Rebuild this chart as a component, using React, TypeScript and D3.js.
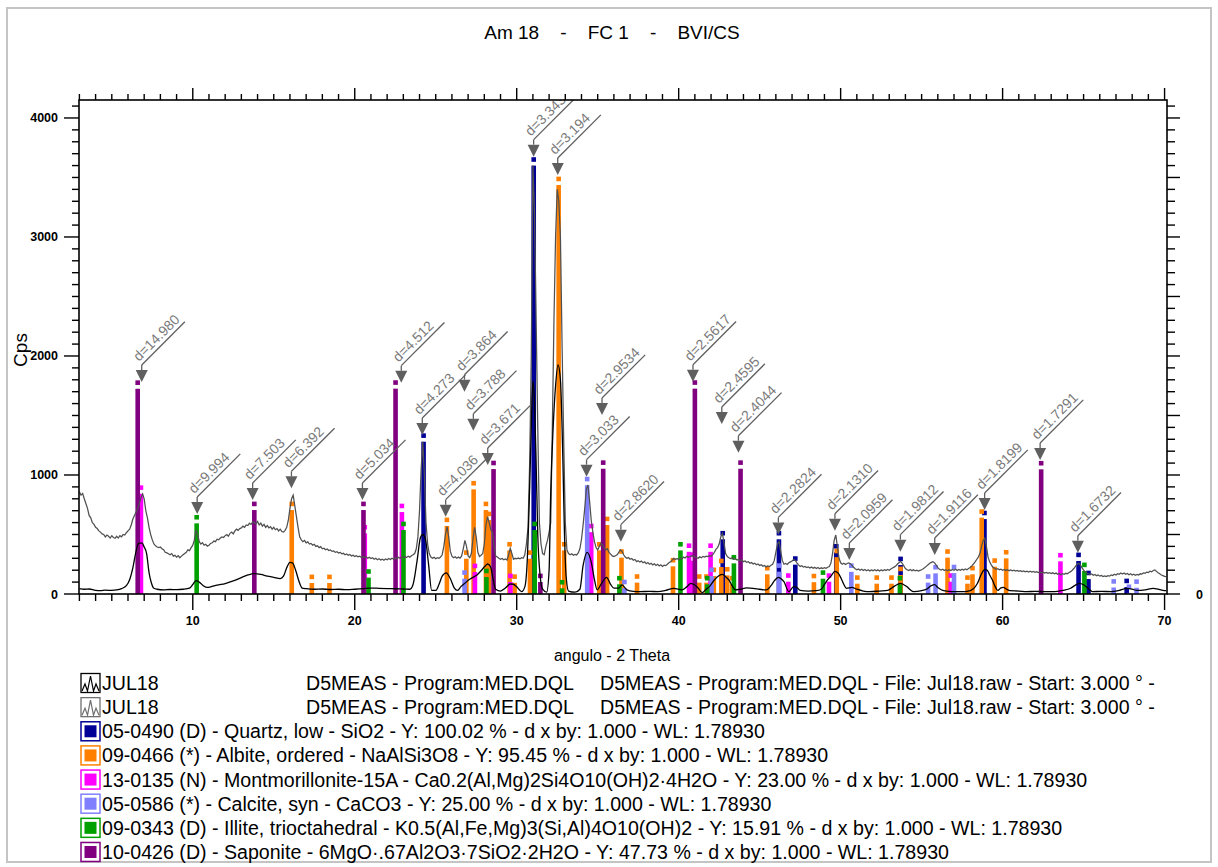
import React from "react";
import * as d3 from "d3";

const W = 1218;
const H = 867;

const chartTitle = "Am 18    -    FC 1    -    BVI/CS";
const xAxisTitle = "angulo - 2 Theta";
const yAxisTitle = "Cps";
const wavelength = 1.7893;

const xMajorTicks = [10, 20, 30, 40, 50, 60, 70];
const yMajorTicks = [0, 1000, 2000, 3000, 4000];

// Raw scan (grey), sampled every 0.1° from 3.0°
const rawStart = 3.0;
const rawStep = 0.1;
const rawCps = [
  860, 830, 845, 800, 760, 720, 660, 640, 600, 585,
  560, 550, 530, 520, 505, 500, 480, 495, 485, 470,
  490, 475, 468, 485, 470, 490, 480, 500, 495, 515,
  530, 545, 580, 630, 660, 690, 720, 760, 810, 840,
  800, 700, 640, 560, 500, 455, 420, 405, 395, 390,
  395, 380, 372, 350, 345, 338, 330, 340, 318, 325,
  310, 322, 305, 318, 330, 340, 350, 372, 365, 390,
  410, 455, 540, 500, 440, 420, 432, 410, 418, 402,
  410, 425, 430, 445, 440, 460, 455, 470, 480, 475,
  490, 500, 485, 510, 520, 505, 530, 545, 535, 550,
  555, 570, 560, 580, 575, 595, 585, 605, 600, 590,
  610, 580, 595, 570, 585, 560, 575, 555, 565, 545,
  560, 540, 550, 530, 545, 525, 520, 535, 560, 620,
  720, 800, 830, 740, 650, 560, 480, 455, 440, 450,
  430, 438, 420, 425, 410, 418, 400, 405, 390, 398,
  380, 385, 372, 378, 365, 370, 358, 362, 350, 355,
  345, 350, 338, 342, 330, 336, 325, 332, 320, 326,
  315, 322, 312, 318, 308, 315, 305, 312, 300, 308,
  298, 305, 292, 300, 288, 296, 285, 292, 284, 295,
  288, 298, 290, 300, 292, 305, 296, 308, 300, 312,
  304, 315, 306, 318, 310, 322, 330, 340, 380, 480,
  700, 1050, 1280, 1000, 600, 420, 340, 310, 300, 308,
  296, 305, 300, 310, 330, 400, 500, 566, 480, 360,
  318, 305, 312, 300, 310, 302, 320, 380, 450, 400,
  320, 305, 340, 460, 560, 480, 350, 315, 325, 340,
  420, 580, 650, 600, 540, 520, 400, 320, 310, 300,
  292, 298, 288, 295, 286, 330, 384, 340, 292, 300,
  295, 302, 296, 305, 300, 330, 420, 560, 1100, 2000,
  3600, 3200, 2300, 1400, 600, 420, 340, 330, 400, 450,
  520, 600, 1400, 2300, 3000, 3400, 3300, 3000, 2100, 1300,
  600, 370, 340, 330, 338, 325, 332, 328, 345, 380,
  460, 580, 720, 880, 916, 780, 620, 520, 440, 390,
  370, 400, 426, 410, 385, 370, 380, 350, 335, 320,
  314, 322, 330, 350, 370, 360, 330, 310, 300, 306,
  292, 298, 284, 290, 272, 280, 268, 276, 262, 270,
  255, 264, 250, 258, 245, 254, 240, 250, 236, 246,
  232, 242, 238, 250, 262, 270, 285, 300, 290, 298,
  288, 300, 295, 310, 302, 316, 308, 314, 322, 318,
  310, 305, 300, 312, 304, 316, 310, 318, 314, 322,
  316, 330, 350, 375, 390, 420, 480, 510, 430, 340,
  314, 305, 298, 304, 292, 296, 286, 290, 280, 286,
  272, 278, 266, 272, 258, 264, 252, 258, 246, 252,
  240, 246, 234, 240, 228, 236, 230, 242, 250, 280,
  350, 420, 440, 360, 280, 250, 256, 248, 262, 270,
  278, 290, 282, 262, 245, 232, 238, 226, 232, 222,
  228, 218, 226, 216, 224, 214, 222, 212, 220, 214,
  222, 216, 225, 230, 260, 340, 450, 496, 400, 300,
  262, 250, 258, 248, 256, 262, 255, 240, 225, 212,
  204, 210, 200, 208, 198, 206, 196, 204, 194, 202,
  196, 204, 195, 203, 194, 202, 196, 204, 198, 206,
  200, 210, 218, 226, 236, 250, 262, 274, 258, 236,
  214, 204, 198, 206, 196, 203, 194, 200, 192, 198,
  204, 212, 222, 234, 246, 258, 266, 272, 262, 242,
  222, 208, 202, 208, 198, 205, 196, 204, 198, 206,
  200, 208, 198, 206, 200, 208, 202, 210, 204, 214,
  222, 236, 252, 270, 290, 310, 340, 400, 450, 468,
  400, 310, 270, 245, 225, 216, 208, 212, 204, 208,
  200, 206, 198, 204, 196, 202, 194, 200, 192, 198,
  190, 196, 188, 194, 186, 192, 185, 191, 184, 190,
  182, 188, 180, 186, 178, 184, 176, 182, 174, 180,
  172, 178, 170, 176, 166, 172, 162, 170, 166, 174,
  170, 180, 188, 200, 214, 232, 250, 258, 245, 222,
  200, 186, 176, 170, 164, 168, 158, 164, 154, 160,
  150, 156, 146, 152, 146, 154, 150, 160, 155, 166,
  160, 170, 166, 176, 168, 176, 166, 172, 162, 170,
  160, 166, 158, 164, 160, 170, 168, 178, 174, 184,
  180, 192, 186, 198, 202, 190, 178, 170, 160, 154,
  148, 146,
];

// Background-subtracted scan (black)
const netAngles = [
  3.0, 3.3, 3.6, 4.0, 4.3, 4.6, 5.0, 5.3, 5.6, 5.9, 6.1, 6.3, 6.5, 6.65, 6.85, 7.0, 7.15, 7.3, 7.45, 7.6,
  7.8, 8.2, 8.6, 9.0, 9.4, 9.8, 10.0, 10.2, 10.4, 10.65, 10.9, 11.1, 11.5, 12.0, 12.5, 13.0, 13.4, 13.8, 14.2, 14.6,
  15.0, 15.4, 15.6, 15.8, 16.0, 16.15, 16.35, 16.55, 16.75, 17.0, 17.5, 18.0, 18.5, 19.0, 19.5, 20.0, 20.5, 21.0, 21.5, 22.0,
  22.5, 23.0, 23.4, 23.6, 23.85, 24.05, 24.2, 24.35, 24.55, 24.75, 25.0, 25.2, 25.4, 25.65, 25.9, 26.15, 26.35, 26.55, 26.8, 27.05,
  27.3, 27.55, 27.8, 28.05, 28.2, 28.38, 28.55, 28.7, 29.0, 29.3, 29.6, 29.8, 30.0, 30.3, 30.5, 30.65, 30.8, 30.9, 31.0, 31.1,
  31.2, 31.3, 31.45, 31.6, 31.85, 32.0, 32.1, 32.25, 32.4, 32.55, 32.7, 32.85, 32.95, 33.05, 33.2, 33.6, 33.9, 34.1, 34.35, 34.6,
  34.8, 34.97, 35.2, 35.55, 35.8, 36.0, 36.3, 36.5, 36.8, 37.2, 37.6, 38.2, 38.7, 39.2, 39.7, 40.2, 40.5, 40.75, 41.0, 41.2,
  41.45, 41.7, 41.9, 42.2, 42.5, 42.7, 42.9, 43.1, 43.3, 43.5, 43.8, 44.2, 44.6, 45.0, 45.4, 45.7, 45.9, 46.15, 46.3, 46.5,
  46.8, 47.1, 47.3, 47.5, 48.0, 48.5, 48.8, 49.0, 49.2, 49.4, 49.65, 49.85, 50.0, 50.2, 50.35, 50.7, 51.0, 51.4, 51.8, 52.4,
  52.9, 53.2, 53.5, 53.7, 53.9, 54.1, 54.3, 54.5, 55.0, 55.3, 55.6, 55.8, 56.0, 56.3, 56.7, 57.0, 57.5, 57.8, 58.2, 58.45,
  58.7, 58.9, 59.05, 59.2, 59.37, 59.55, 59.7, 59.9, 60.05, 60.25, 60.45, 61.0, 61.5, 62.0, 62.6, 63.2, 63.7, 64.2, 64.5, 64.75,
  65.0, 65.3, 65.55, 66.1, 66.7, 67.2, 67.7, 68.0, 68.3, 68.8, 69.3, 69.6, 69.9, 70.1,
];
const netCps = [
  45, 40, 42, 30, 28, 32, 30, 34, 45, 70, 120, 220, 360, 425, 430, 395, 340, 180, 90, 48,
  40, 35, 38, 36, 40, 50, 80, 112, 100, 70, 55, 60, 75, 88, 110, 138, 160, 172, 165, 150,
  140, 130, 150, 220, 265, 262, 200, 110, 50, 45, 40, 42, 38, 40, 36, 40, 45, 50, 48, 46,
  44, 42, 40, 80, 280, 470, 500, 470, 260, 30, 30, 80, 150, 178, 130, 50, 30, 62, 90, 120,
  140, 160, 195, 235, 252, 230, 120, 40, 25, 50, 84, 82, 60, 20, 60, 280, 900, 1400, 1790, 1600,
  1100, 500, 150, 40, 15, 200, 850, 1400, 1750, 1925, 1800, 1130, 500, 150, 25, 15, 40, 240, 350, 270,
  120, 35, 80, 140, 80, 50, 50, 76, 35, 22, 20, 22, 20, 30, 48, 35, 60, 90, 75, 50,
  12, 40, 62, 118, 155, 165, 145, 118, 70, 34, 40, 52, 48, 40, 34, 70, 110, 140, 130, 103,
  20, 62, 55, 30, 25, 28, 40, 80, 120, 150, 190, 175, 140, 80, 48, 55, 40, 25, 20, 25,
  30, 55, 80, 90, 78, 60, 35, 20, 28, 40, 70, 78, 55, 30, 22, 20, 20, 22, 45, 90,
  170, 207, 200, 160, 118, 60, 30, 52, 56, 40, 28, 25, 20, 22, 20, 20, 30, 48, 75, 90,
  78, 45, 20, 22, 20, 30, 48, 40, 30, 35, 48, 40, 30, 28,
];

// Reference patterns (2θ, Cps)
const quartzAngles = [24.25, 31.05, 42.72, 46.19, 47.2, 49.73, 53.7, 58.88, 64.69, 65.3, 67.66];
const quartzCps = [1330, 3650, 510, 510, 297, 400, 294, 680, 328, 176, 109];

const albiteAngles = [
  16.11, 17.35, 18.44, 25.69, 26.89, 27.34, 28.1, 28.28, 29.56, 29.87, 30.82, 32.59, 32.93,
  35.1, 35.58, 36.47, 37.43, 39.65, 41.27, 41.72, 42.17, 42.63, 43.0, 43.31, 45.47, 48.35,
  49.76, 51.03, 52.23, 53.14, 53.7, 56.6, 57.83, 58.14, 58.71, 59.51, 60.22,
];
const albiteCps = [
  756, 143, 143, 622, 347, 930, 756, 672, 417, 145, 347, 3487, 417,
  417, 630, 356, 146, 283, 146, 146, 202, 277, 207, 132, 216, 150,
  360, 137, 137, 137, 210, 356, 137, 216, 692, 280, 350,
];

const montmorilloniteAngles = [6.8, 20.62, 22.91, 27.42, 29.61, 34.6, 40.64, 40.8, 41.97, 46.77, 49.28, 56.8, 63.57];
const montmorilloniteCps = [893, 560, 739, 235, 151, 570, 405, 330, 405, 154, 154, 154, 325];

const calciteAngles = [26.78, 34.35, 36.65, 42.03, 46.21, 50.66, 55.4, 55.86, 57.0, 66.86, 67.8, 68.27];
const calciteCps = [179, 965, 100, 202, 238, 237, 146, 224, 226, 105, 60, 103];

const illiteAngles = [10.24, 20.85, 23.01, 28.13, 31.11, 32.8, 36.34, 40.11, 41.76, 43.41, 48.91, 53.66, 65.05];
const illiteCps = [644, 188, 588, 193, 588, 98, 132, 417, 132, 308, 179, 132, 244];

const saponiteAngles = [6.6, 13.8, 20.54, 22.52, 28.57, 31.46, 35.34, 41.0, 43.82, 62.38];
const saponiteCps = [1775, 756, 756, 1776, 1100, 151, 1103, 1776, 1103, 1098];

const phaseLabels = [
  "05-0490 (D) - Quartz, low - SiO2 - Y: 100.02 % - d x by: 1.000 - WL: 1.78930",
  "09-0466 (*) - Albite, ordered - NaAlSi3O8 - Y: 95.45 % - d x by: 1.000 - WL: 1.78930",
  "13-0135 (N) - Montmorillonite-15A - Ca0.2(Al,Mg)2Si4O10(OH)2·4H2O - Y: 23.00 % - d x by: 1.000 - WL: 1.78930",
  "05-0586 (*) - Calcite, syn - CaCO3 - Y: 25.00 % - d x by: 1.000 - WL: 1.78930",
  "09-0343 (D) - Illite, trioctahedral - K0.5(Al,Fe,Mg)3(Si,Al)4O10(OH)2 - Y: 15.91 % - d x by: 1.000 - WL: 1.78930",
  "10-0426 (D) - Saponite - 6MgO·.67Al2O3·7SiO2·2H2O - Y: 47.73 % - d x by: 1.000 - WL: 1.78930",
];
const phaseColors = ["#000096", "#ff8000", "#ff00ff", "#8080ff", "#00a000", "#800080"];
const phaseAngles = [quartzAngles, albiteAngles, montmorilloniteAngles, calciteAngles, illiteAngles, saponiteAngles];
const phaseCps = [quartzCps, albiteCps, montmorilloniteCps, calciteCps, illiteCps, saponiteCps];

const scanNames = ["JUL18", "JUL18"];
const scanColors = ["#000000", "#707070"];
const scanInfo = "D5MEAS - Program:MED.DQL";
const scanFile = "D5MEAS - Program:MED.DQL - File: Jul18.raw - Start: 3.000 ° -";

// Peak markers: d-spacing (Å) and height of the arrow tip (Cps)
const peakD = [
  "14.980", "9.994", "7.503", "6.392", "5.034", "4.512", "4.273", "4.036", "3.864", "3.788",
  "3.671", "3.343", "3.194", "3.033", "2.9534", "2.8620", "2.5617", "2.4595", "2.4044", "2.2824",
  "2.1310", "2.0959", "1.9812", "1.9116", "1.8199", "1.7291", "1.6732",
];
const peakTipCps = [
  1782, 672, 790, 888, 790, 1776, 1336, 650, 1700, 1372,
  1084, 3675, 3521, 986, 1504, 440, 1784, 1429, 1187, 501,
  532, 286, 356, 328, 706, 1126, 347,
];

const plot = { left: 79, right: 1167, top: 100, bottom: 594 };
const x = d3.scaleLinear().domain([3, 70.15]).range([79.4, plot.right]);
const y = d3.scaleLinear().domain([0, 4151]).range([plot.bottom, plot.top]);

const braggTwoTheta = (d: number) => (2 * Math.asin(wavelength / (2 * d)) * 180) / Math.PI;

const rawPoints: [number, number][] = rawCps.map((c, i) => [rawStart + i * rawStep, c]);
const netPoints: [number, number][] = netAngles.map((a, i) => [a, netCps[i]]);

const rawLine = d3.line<[number, number]>().x((d) => x(d[0])).y((d) => y(d[1]));
const netLine = d3
  .line<[number, number]>()
  .x((d) => x(d[0]))
  .y((d) => y(d[1]))
  .curve(d3.curveMonotoneX);

const tickFont = {
  fontFamily: "'Liberation Sans Narrow', 'Arial Narrow', Arial, sans-serif",
  fontWeight: 700,
  fontSize: 12.5,
};
const textFont = "'Liberation Sans', Arial, Helvetica, sans-serif";
const legendSize = 19.6;

export default function App() {
  const xMinor = d3.range(3, 71, 1);
  const yMinor = d3.range(0, 4200, 100);
  const legendTop = 683;
  const legendStep = 24.14;

  return (
    <svg
      width={W}
      height={H}
      viewBox={`0 0 ${W} ${H}`}
      style={{ position: "absolute", left: 0, top: 0, background: "#fff" }}
    >
      <defs>
        <clipPath id="plotClip">
          <rect x={plot.left} y={plot.top} width={plot.right - plot.left} height={plot.bottom - plot.top} />
        </clipPath>
      </defs>
      <rect x={0} y={0} width={W} height={H} fill="#fff" />
      <rect x={7} y={8} width={1204} height={854} fill="none" stroke="#c4c4c4" strokeWidth={2} />

      <text
        x={612}
        y={39}
        textAnchor="middle"
        fontFamily={textFont}
        fontSize={19}
        fill="#000"
        style={{ whiteSpace: "pre" }}
      >
        {chartTitle}
      </text>

      {/* reference sticks */}
      <g clipPath="url(#plotClip)">
        {phaseAngles.map((angles, p) => (
          <g key={p} fill={phaseColors[p]}>
            {angles.map((a, i) => {
              const cx = x(a);
              const top = y(phaseCps[p][i]);
              return (
                <g key={i}>
                  <rect x={cx - 2.3} y={top - 2.4} width={4.6} height={4.6} />
                  <rect x={cx - 2.3} y={top + 6} width={4.6} height={Math.max(0, plot.bottom - top - 6)} />
                </g>
              );
            })}
          </g>
        ))}
      </g>

      {/* scans */}
      <g clipPath="url(#plotClip)">
        <path d={rawLine(rawPoints) ?? ""} fill="none" stroke="#505050" strokeWidth={1.25} />
        <path d={netLine(netPoints) ?? ""} fill="none" stroke="#000" strokeWidth={1.3} />
      </g>

      {/* d-spacing markers */}
      <g clipPath="url(#plotClip)">
        {peakD.map((ds, i) => {
          const px = x(braggTwoTheta(+ds));
          const py = y(peakTipCps[i]);
          const sy = py - 12 - 5;
          return (
            <g key={ds}>
              <path d={`M${px - 6},${py - 12} L${px + 6},${py - 12} L${px},${py} Z`} fill="#5f5f5f" />
              <line x1={px} y1={py - 12} x2={px} y2={sy} stroke="#5f5f5f" strokeWidth={1.3} />
              <g transform={`translate(${px},${sy}) rotate(-45)`}>
                <line x1={0} y1={0} x2={61} y2={0} stroke="#5f5f5f" strokeWidth={1.3} />
                <text x={0} y={-4} fontFamily={textFont} fontSize={14} fill="#7a7a7a">
                  {`d=${ds}`}
                </text>
              </g>
            </g>
          );
        })}
      </g>

      {/* frame */}
      <rect
        x={plot.left}
        y={plot.top}
        width={plot.right - plot.left}
        height={plot.bottom - plot.top}
        fill="none"
        stroke="#000"
        strokeWidth={1.6}
      />

      {/* x ticks, bottom and top */}
      {xMinor.map((v) => {
        const major = v % 10 === 0;
        const px = x(v);
        return (
          <g key={`xt${v}`} stroke="#000" strokeWidth={1.4}>
            <line x1={px} x2={px} y1={plot.bottom} y2={plot.bottom + (major ? 16 : 7)} />
            <line x1={px} x2={px} y1={plot.top} y2={plot.top - (major ? 12 : 6)} />
          </g>
        );
      })}
      {xMajorTicks.map((v) => (
        <text key={`xl${v}`} x={x(v)} y={625} textAnchor="middle" {...tickFont} fill="#000">
          {v}
        </text>
      ))}

      {/* y ticks, left and right */}
      {yMinor.map((v) => {
        const py = y(v);
        const leftMajor = v % 1000 === 0;
        const rightMajor = v % 500 === 0;
        return (
          <g key={`yt${v}`} stroke="#000" strokeWidth={1.4}>
            <line x1={plot.left} x2={plot.left - (leftMajor ? 15 : 7)} y1={py} y2={py} />
            <line x1={plot.right} x2={plot.right + (rightMajor ? 13 : 8)} y1={py} y2={py} />
          </g>
        );
      })}
      {yMajorTicks.map((v) => (
        <text key={`yl${v}`} x={58} y={y(v) + 4.5} textAnchor="end" {...tickFont} fill="#000">
          {v}
        </text>
      ))}
      <text x={1196} y={y(0) + 4.5} {...tickFont} fill="#000">
        0
      </text>

      <text x={612} y={661} textAnchor="middle" fontFamily={textFont} fontSize={16} fill="#000">
        {xAxisTitle}
      </text>
      <text
        transform={`translate(27,${350}) rotate(-90)`}
        textAnchor="middle"
        fontFamily={textFont}
        fontSize={19}
        fill="#000"
      >
        {yAxisTitle}
      </text>

      {/* legend */}
      {scanNames.map((name, i) => {
        const cy = legendTop + i * legendStep;
        return (
          <g key={`scan${i}`}>
            <rect x={81} y={cy - 9.5} width={19} height={19} fill="#fff" stroke={scanColors[i]} strokeWidth={1.3} />
            <path
              d={`M82,${cy + 8} L85,${cy + 1} L87.5,${cy + 8} L90.5,${cy - 7} L93.5,${cy + 8} L96,${cy + 1} L99,${cy + 8}`}
              fill="none"
              stroke={scanColors[i]}
              strokeWidth={1.2}
            />
            <text x={102} y={cy + 7} fontFamily={textFont} fontSize={legendSize} fill="#000">
              {name}
            </text>
            <text x={306} y={cy + 7} fontFamily={textFont} fontSize={legendSize} fill="#000">
              {scanInfo}
            </text>
            <text x={600} y={cy + 7} fontFamily={textFont} fontSize={legendSize} fill="#000">
              {scanFile}
            </text>
          </g>
        );
      })}
      {phaseLabels.map((label, i) => {
        const cy = legendTop + (i + 2) * legendStep;
        return (
          <g key={`ph${i}`}>
            <rect x={81} y={cy - 9.5} width={19} height={19} fill="#fff" stroke={phaseColors[i]} strokeWidth={1.5} />
            <rect x={84.5} y={cy - 6} width={12} height={12} fill={phaseColors[i]} />
            <text x={102} y={cy + 7} fontFamily={textFont} fontSize={legendSize} fill="#000">
              {label}
            </text>
          </g>
        );
      })}
    </svg>
  );
}
